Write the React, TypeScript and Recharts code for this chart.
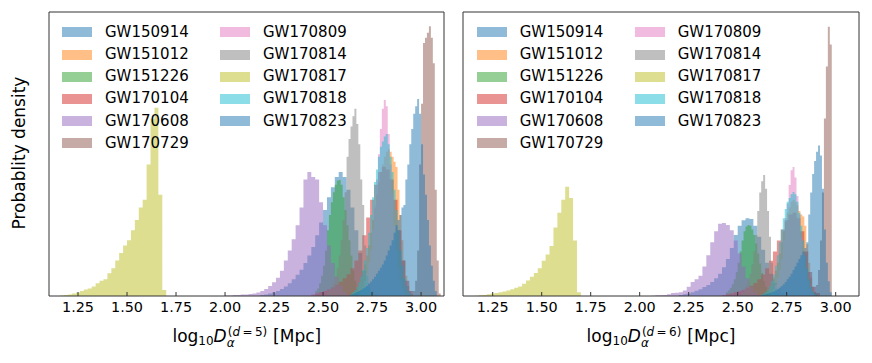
import { ComposedChart, Area, XAxis, YAxis } from "recharts";

const EVENTS = [
  "GW150914", "GW151012", "GW151226", "GW170104", "GW170608", "GW170729",
  "GW170809", "GW170814", "GW170817", "GW170818", "GW170823",
];
const COLORS = [
  "#1f77b4", "#ff7f0e", "#2ca02c", "#d62728", "#9467bd", "#8c564b",
  "#e377c2", "#7f7f7f", "#bcbd22", "#17becf", "#1f77b4",
];
const X_TICKS = [1.25, 1.5, 1.75, 2.0, 2.25, 2.5, 2.75, 3.0];
const Y_TICKS_D5 = [1, 2, 3, 4, 5];
const Y_TICKS_D6 = [1, 2, 3, 4, 5, 6, 7];

// histogram heights: bins start at `start`, each `step` wide (log10 Mpc)
// ---- d = 5 ----
const d5GW150914 = { start: 2.18, step: 0.02, h: [0.02, 0.03, 0.05, 0.07, 0.1, 0.14, 0.19, 0.25, 0.33, 0.42, 0.52, 0.65, 0.8, 0.97, 1.2, 1.45, 1.7, 1.95, 2.15, 2.35, 2.45, 2.35, 2.1, 1.75, 1.3, 0.85, 0.5, 0.25, 0.1, 0.04] };
const d5GW151012 = { start: 2.62, step: 0.01, h: [0.04, 0.06, 0.08, 0.11, 0.15, 0.2, 0.27, 0.36, 0.48, 0.62, 0.8, 1.0, 1.25, 1.5, 1.75, 2.0, 2.25, 2.45, 2.6, 2.75, 2.85, 2.9, 2.85, 2.75, 2.65, 2.55, 2.1, 1.6, 1.1, 0.7, 0.4, 0.2, 0.1, 0.04] };
const d5GW151226 = { start: 2.46, step: 0.01, h: [0.1, 0.15, 0.25, 0.4, 0.6, 0.9, 1.3, 1.6, 1.85, 2.05, 2.2, 2.28, 2.29, 2.2, 1.95, 1.7, 1.4, 1.1, 0.8, 0.5, 0.3, 0.15, 0.07] };
const d5GW170104 = { start: 2.44, step: 0.02, h: [0.03, 0.05, 0.08, 0.1, 0.13, 0.17, 0.22, 0.28, 0.35, 0.43, 0.55, 0.7, 0.9, 1.2, 1.55, 1.9, 2.2, 2.45, 2.55, 2.5, 2.3, 1.9, 1.3, 0.7, 0.3, 0.1] };
const d5GW170608 = { start: 2.0, step: 0.02, h: [0.01, 0.01, 0.02, 0.02, 0.03, 0.03, 0.04, 0.05, 0.07, 0.1, 0.14, 0.2, 0.27, 0.36, 0.5, 0.7, 0.9, 1.12, 1.4, 1.75, 2.3, 2.45, 2.35, 2.3, 1.85, 1.4, 1.0, 0.65, 0.38, 0.2, 0.08, 0.03] };
const d5GW170729 = { start: 2.96, step: 0.01, h: [0.1, 0.3, 0.9, 2.6, 3.8, 5.0, 5.1, 5.2, 5.33, 5.1, 4.6, 2.1, 0.7, 0.05] };
const d5GW170809 = { start: 2.68, step: 0.01, h: [0.05, 0.1, 0.18, 0.3, 0.45, 0.65, 0.9, 1.3, 1.8, 2.3, 2.8, 3.3, 3.7, 3.87, 3.75, 3.2, 2.6, 2.0, 1.4, 0.9, 0.55, 0.3, 0.15, 0.07] };
const d5GW170814 = { start: 2.52, step: 0.01, h: [0.08, 0.12, 0.18, 0.26, 0.38, 0.55, 0.8, 1.1, 1.5, 2.05, 2.75, 3.1, 3.35, 3.55, 3.7, 3.4, 3.0, 2.3, 1.8, 1.0, 0.4, 0.15, 0.05] };
const d5GW170817 = { start: 1.16, step: 0.02, h: [0.01, 0.02, 0.03, 0.05, 0.07, 0.1, 0.13, 0.15, 0.19, 0.25, 0.3, 0.33, 0.45, 0.55, 0.7, 0.85, 1.0, 1.1, 1.3, 1.5, 1.75, 1.9, 2.6, 3.5, 3.72, 2.0, 0.12] };
const d5GW170818 = { start: 2.64, step: 0.01, h: [0.05, 0.08, 0.12, 0.18, 0.27, 0.38, 0.52, 0.7, 0.95, 1.25, 1.6, 1.95, 2.25, 2.5, 2.75, 2.95, 3.05, 3.15, 3.2, 3.0, 2.75, 2.45, 2.1, 1.7, 1.3, 0.9, 0.6, 0.35, 0.2, 0.1, 0.05] };
const d5GW170823 = { start: 2.64, step: 0.01, h: [0.03, 0.04, 0.06, 0.08, 0.1, 0.12, 0.15, 0.17, 0.2, 0.24, 0.28, 0.33, 0.38, 0.44, 0.5, 0.56, 0.62, 0.7, 0.8, 0.9, 1.0, 1.1, 1.25, 1.4, 1.5, 1.6, 1.75, 1.8, 2.3, 2.6, 3.0, 3.3, 3.6, 3.75, 3.89, 3.6, 3.0, 2.4, 2.0, 1.5, 1.0, 0.6, 0.3, 0.1] };

// ---- d = 6 ----
const d6GW150914 = { start: 2.2, step: 0.02, h: [0.03, 0.05, 0.07, 0.1, 0.14, 0.18, 0.24, 0.3, 0.38, 0.48, 0.6, 0.78, 1.0, 1.3, 1.65, 1.9, 2.05, 2.1, 2.08, 1.9, 1.6, 1.25, 0.9, 0.6, 0.35, 0.18, 0.08, 0.03] };
const d6GW151012 = { start: 2.6, step: 0.01, h: [0.04, 0.06, 0.08, 0.11, 0.15, 0.2, 0.27, 0.36, 0.5, 0.68, 0.9, 1.15, 1.45, 1.75, 2.0, 2.25, 2.4, 2.55, 2.6, 2.55, 2.45, 2.3, 2.2, 2.15, 1.9, 1.4, 0.9, 0.5, 0.25, 0.1, 0.04] };
const d6GW151226 = { start: 2.44, step: 0.01, h: [0.1, 0.15, 0.22, 0.32, 0.45, 0.65, 0.9, 1.2, 1.5, 1.75, 1.88, 1.92, 1.9, 1.8, 1.65, 1.42, 1.15, 0.88, 0.62, 0.4, 0.25, 0.14, 0.07] };
const d6GW170104 = { start: 2.42, step: 0.02, h: [0.03, 0.05, 0.07, 0.1, 0.13, 0.17, 0.22, 0.28, 0.35, 0.45, 0.58, 0.75, 0.95, 1.2, 1.5, 1.8, 2.05, 2.2, 2.25, 2.1, 1.75, 1.2, 0.65, 0.25, 0.08] };
const d6GW170608 = { start: 2.06, step: 0.02, h: [0.01, 0.02, 0.02, 0.03, 0.05, 0.08, 0.09, 0.1, 0.15, 0.25, 0.38, 0.45, 0.55, 0.8, 1.1, 1.45, 1.75, 1.95, 1.97, 1.92, 1.78, 1.5, 1.15, 0.8, 0.48, 0.25, 0.1, 0.04] };
const d6GW170729 = { start: 2.89, step: 0.01, h: [0.1, 0.3, 0.7, 1.5, 2.8, 4.8, 6.2, 7.28, 6.8] };
const d6GW170809 = { start: 2.66, step: 0.01, h: [0.05, 0.1, 0.18, 0.3, 0.48, 0.7, 1.0, 1.5, 2.1, 2.5, 3.0, 3.4, 3.49, 3.2, 2.7, 2.2, 1.6, 1.1, 0.7, 0.4, 0.2, 0.1] };
const d6GW170814 = { start: 2.52, step: 0.01, h: [0.1, 0.15, 0.25, 0.4, 0.6, 0.85, 1.2, 1.65, 2.3, 2.8, 3.1, 3.27, 2.9, 2.3, 1.6, 0.9, 0.45, 0.2, 0.08] };
const d6GW170817 = { start: 1.16, step: 0.02, h: [0.01, 0.02, 0.03, 0.05, 0.07, 0.08, 0.1, 0.12, 0.15, 0.18, 0.22, 0.26, 0.33, 0.42, 0.52, 0.62, 0.75, 0.95, 1.12, 1.35, 1.85, 2.25, 2.6, 2.95, 2.65, 1.5, 0.1] };
const d6GW170818 = { start: 2.62, step: 0.01, h: [0.05, 0.08, 0.12, 0.18, 0.27, 0.4, 0.58, 0.82, 1.1, 1.45, 1.8, 2.1, 2.35, 2.55, 2.65, 2.75, 2.81, 2.75, 2.55, 2.25, 1.9, 1.5, 1.1, 0.75, 0.45, 0.25, 0.12, 0.05] };
const d6GW170823 = { start: 2.62, step: 0.01, h: [0.03, 0.04, 0.05, 0.06, 0.08, 0.1, 0.12, 0.15, 0.18, 0.22, 0.27, 0.32, 0.38, 0.45, 0.52, 0.6, 0.7, 0.8, 0.9, 1.0, 1.1, 1.2, 1.3, 1.45, 2.2, 2.8, 3.3, 3.65, 3.9, 4.07, 3.8, 2.9, 1.8, 0.9, 0.4, 0.1] };

const D5 = [d5GW150914, d5GW151012, d5GW151226, d5GW170104, d5GW170608, d5GW170729, d5GW170809, d5GW170814, d5GW170817, d5GW170818, d5GW170823];
const D6 = [d6GW150914, d6GW151012, d6GW151226, d6GW170104, d6GW170608, d6GW170729, d6GW170809, d6GW170814, d6GW170817, d6GW170818, d6GW170823];

type Hist = { start: number; step: number; h: number[] };

// spread the bins onto a common 0.01 grid so one table feeds every Area
function toRows(hists: Hist[]) {
  const rows: Record<string, number>[] = [];
  for (let k = 110; k <= 312; k++) {
    const row: Record<string, number> = { x: k / 100 };
    hists.forEach((hs, i) => {
      const s = Math.round(hs.start * 100);
      const st = Math.round(hs.step * 100);
      const idx = Math.floor((k - s) / st);
      row[EVENTS[i]] = idx >= 0 && idx < hs.h.length ? hs.h[idx] : 0;
    });
    rows.push(row);
  }
  return rows;
}

const AX = "#333";
const FONT = "'DejaVu Sans', sans-serif";

function Panel({ rows, xDomain, yMax, yTicks, width, margin }: any) {
  const common = {
    type: "number" as const,
    allowDataOverflow: true,
    tickSize: -4,
    axisLine: { stroke: AX },
    tickLine: { stroke: AX },
    interval: 0 as const,
  };
  return (
    <ComposedChart width={width} height={363} data={rows} margin={margin}>
      <XAxis
        {...common}
        xAxisId="b"
        dataKey="x"
        domain={xDomain}
        ticks={X_TICKS}
        height={30}
        tickMargin={10}
        tickFormatter={(v: number) => v.toFixed(2)}
        tick={{ fontSize: 14.4, fill: "#000" }}
      />
      <XAxis {...common} xAxisId="t" orientation="top" dataKey="x" domain={xDomain} ticks={X_TICKS} height={1} tick={false} />
      <YAxis {...common} yAxisId="l" domain={[0, yMax]} ticks={yTicks} width={1} tick={false} />
      <YAxis {...common} yAxisId="r" orientation="right" domain={[0, yMax]} ticks={yTicks} width={1} tick={false} />
      {EVENTS.map((e, i) => (
        <Area
          key={e}
          xAxisId="b"
          yAxisId="l"
          type="stepAfter"
          dataKey={e}
          fill={COLORS[i]}
          fillOpacity={0.5}
          stroke="none"
          dot={false}
          activeDot={false}
          isAnimationActive={false}
        />
      ))}
    </ComposedChart>
  );
}

function Legend({ left }: { left: number }) {
  return (
    <>
      {EVENTS.map((e, i) => {
        const col = i < 6 ? 0 : 1;
        const row = i < 6 ? i : i - 6;
        const cy = 32.3 + row * 22.2;
        const px = left + col * 158;
        return (
          <div key={e}>
            <div
              style={{
                position: "absolute", left: px, top: cy - 5, width: 30, height: 10,
                background: COLORS[i], opacity: 0.5,
              }}
            />
            <div
              style={{
                position: "absolute", left: px + 43, top: cy - 7.5, fontSize: 15,
                lineHeight: "15px", whiteSpace: "nowrap",
              }}
            >
              {e}
            </div>
          </div>
        );
      })}
    </>
  );
}

function XLabel({ cx, d }: { cx: number; d: number }) {
  return (
    <div
      style={{
        position: "absolute", left: cx, top: 325.8, transform: "translateX(-50%)",
        fontSize: 17, lineHeight: "20px", whiteSpace: "nowrap",
      }}
    >
      log
      <span style={{ fontSize: 12, position: "relative", top: 3 }}>10</span>
      <span style={{ fontStyle: "italic" }}>D</span>
      <span style={{ position: "relative", display: "inline-block", width: 41, height: 1 }}>
        <span style={{ position: "absolute", left: 1, top: -13.7, fontSize: 12, lineHeight: "10px", whiteSpace: "nowrap" }}>
          (<i>d</i>{"\u2009=\u2009"}{d})
        </span>
        <span style={{ position: "absolute", left: 0, top: -3.1, fontSize: 12, lineHeight: "10px" }}>
          <i>α</i>
        </span>
      </span>
      {" [Mpc]"}
    </div>
  );
}

export default function App() {
  const rows5 = toRows(D5);
  const rows6 = toRows(D6);
  return (
    <div style={{ position: "absolute", left: 0, top: 0, width: 872, height: 363, background: "#fff", fontFamily: FONT, color: "#000" }}>
      <div style={{ position: "absolute", left: 0, top: 0 }}>
        <Panel rows={rows5} xDomain={[1.102, 3.117]} yMax={5.61} yTicks={Y_TICKS_D5} width={452} margin={{ top: 11, right: 7, bottom: 37, left: 48 }} />
      </div>
      <div style={{ position: "absolute", left: 452, top: 0 }}>
        <Panel rows={rows6} xDomain={[1.0985, 3.119]} yMax={7.676} yTicks={Y_TICKS_D6} width={420} margin={{ top: 11, right: 12, bottom: 37, left: 10 }} />
      </div>
      <Legend left={62} />
      <Legend left={476.7} />
      <XLabel cx={246.8} d={5} />
      <XLabel cx={661} d={6} />
      <div
        style={{
          position: "absolute", left: 19.4, top: 153, fontSize: 17, lineHeight: "17px",
          whiteSpace: "nowrap", transform: "translate(-50%, -50%) rotate(-90deg)",
        }}
      >
        Probablity density
      </div>
    </div>
  );
}
